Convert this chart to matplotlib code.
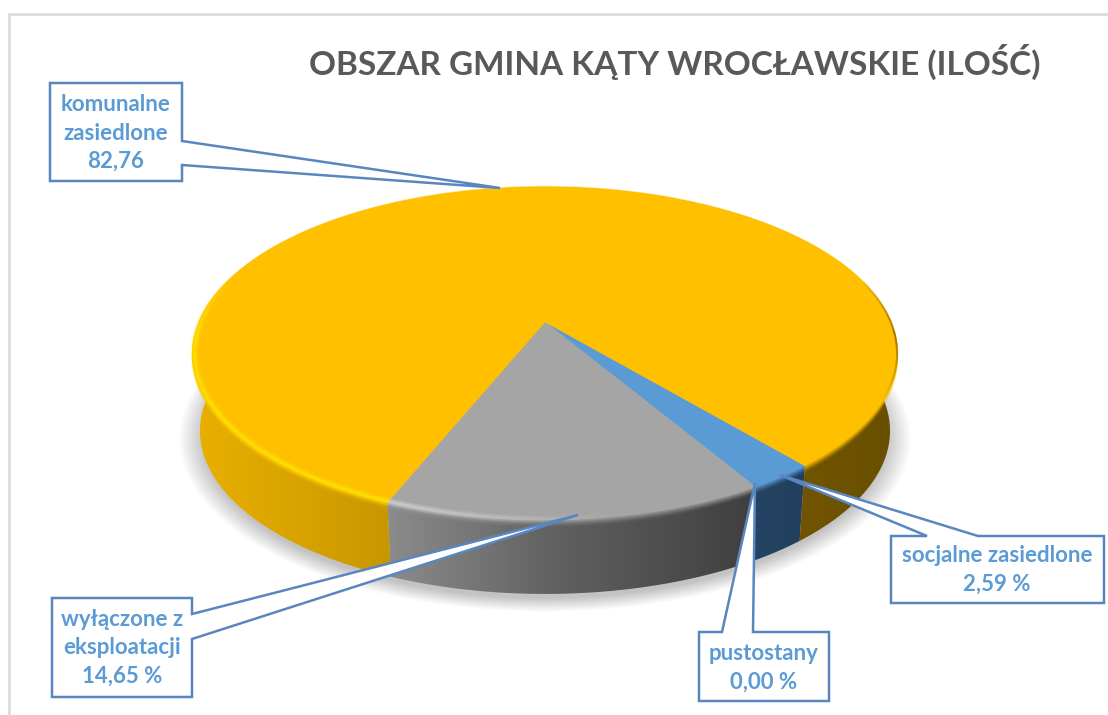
import numpy as np
import matplotlib
matplotlib.use('Agg')
import matplotlib.pyplot as plt
from matplotlib.patches import Polygon
from matplotlib.collections import LineCollection
from matplotlib.colors import LinearSegmentedColormap, to_rgb

# --- data ---
categories = ['socjalne zasiedlone', 'pustostany', 'wyłączone z eksploatacji', 'komunalne zasiedlone']
values = [2.59, 0.00, 14.65, 82.76]
top_colors = ['#5b9bd5', '#4a7ba8', '#a5a5a5', '#ffc000']
title = 'OBSZAR GMINA KĄTY WROCŁAWSKIE (ILOŚĆ)'
label_texts = [
    'socjalne zasiedlone\n2,59 %',
    'pustostany\n0,00 %',
    'wyłączone z\neksploatacji\n14,65 %',
    'komunalne\nzasiedlone\n82,76',
]

# --- pie geometry in pixels (perspective disc) ---
cx, cy = 545, 322
A, B, k = 345.7, 160.5, 0.189
depth = 78
bottom_scale = 0.98
start_angle = 40.0  # degrees right of the front, where first slice begins


def rim(phi_deg, scale=1.0, dy=0.0):
    phi = np.radians(phi_deg)
    X = np.sin(phi)
    Y = -np.cos(phi)
    w = 1 + k * Y
    return cx + scale * A * X / w, cy + dy - scale * B * Y / w


def glow(phi, alphas, color, lw, scale=0.995):
    # rim stroke whose opacity changes along the arc
    x, y = rim(phi, scale=scale)
    pts = np.c_[x, y]
    segs = np.stack([pts[:-1], pts[1:]], axis=1)
    rgba = [(*to_rgb(color), a) for a in alphas[:-1]]
    ax.add_collection(LineCollection(segs, colors=rgba, linewidths=lw, zorder=4.5, capstyle='butt'))


plt.rcParams['font.family'] = ['Lato', 'DejaVu Sans']
fig = plt.figure(figsize=(11.08, 7.15), dpi=100)
ax = fig.add_axes([0, 0, 1, 1])
ax.set_xlim(0, 1108)
ax.set_ylim(715, 0)
ax.axis('off')

# frame of the pasted screenshot
ax.plot([9, 9, 1108], [715, 14, 14], color='#dcdcdc', lw=2, zorder=1)

# soft shadow
full = np.linspace(0, 360, 361)
for i in range(30):
    sx, sy = rim(full, scale=bottom_scale - 0.012 + 0.0024 * (30 - i), dy=depth + 6)
    ax.add_patch(Polygon(np.c_[sx, sy], fc='black', ec='none', alpha=0.006, zorder=2))

# slice boundaries from the values
cum = np.cumsum([0] + values)
angles = start_angle - cum / sum(values) * 360

side_stops = [
    [(700, '#27466a'), (810, '#223f5c')],
    [(700, '#27466a'), (810, '#223f5c')],
    [(385, '#8c8c8c'), (560, '#606060'), (760, '#3e3e3e')],
    [(190, '#eab000'), (300, '#d8a300'), (392, '#c79700'), (800, '#715400'), (900, '#675000')],
]

# sides
for i in range(len(values)):
    if values[i] == 0:
        continue
    phi = np.linspace(angles[i], angles[i + 1], 400)
    tx, ty = rim(phi)
    bx, by = rim(phi, scale=bottom_scale, dy=depth)
    poly = Polygon(np.r_[np.c_[tx, ty], np.c_[bx, by][::-1]], fc='none', ec='none', zorder=3)
    ax.add_patch(poly)
    stops = side_stops[i]
    x0, x1 = stops[0][0], stops[-1][0]
    cmap = LinearSegmentedColormap.from_list(
        's', [((p - x0) / (x1 - x0), c) for p, c in stops])
    im = ax.imshow(np.linspace(0, 1, 256)[None, :], cmap=cmap, aspect='auto',
                   extent=[x0, x1, 715, 0], zorder=3)
    im.set_clip_path(poly)

    # bevel, the top colour fading down the side
    for j in range(8):
        ax.plot(tx, ty + j, color=top_colors[i], lw=1.6, alpha=0.6 * (1 - j / 8) ** 2,
                zorder=3.5, solid_capstyle='butt')

ax.set_xlim(0, 1108)
ax.set_ylim(715, 0)

# top face
for i in range(len(values)):
    if values[i] == 0:
        continue
    phi = np.linspace(angles[i], angles[i + 1], 400)
    tx, ty = rim(phi)
    ax.add_patch(Polygon(np.r_[[[cx, cy]], np.c_[tx, ty]], fc=top_colors[i], ec=top_colors[i],
                         lw=0.3, zorder=4))

# bright edge on the gold slice, left and front
phi = np.linspace(angles[3], -108, 200)
fade = np.clip((phi + 108) / 25, 0, 1)
for w, a in zip([6, 3.5, 1.8], [0.22, 0.35, 0.6]):
    glow(phi, a * fade, '#ffe600', w)
# light edge on the gray slice, only towards the gold side
phi = np.linspace(angles[3], angles[3] + 32, 120)
fade = np.clip(1 - (phi - angles[3]) / 32, 0, 1)
for w, a in zip([5, 2.5], [0.3, 0.5]):
    glow(phi, a * fade, '#dcdcdc', w)
# dark edge on the far right
phi = np.linspace(60, 105, 120)
fade = np.clip(1 - np.abs(phi - 85) / 22, 0, 1)
glow(phi, 0.7 * fade, '#6b5000', 1.4, scale=1.0)

# title
ax.text(675, 62, title, color='#595959', fontsize=24, fontweight='bold',
        ha='center', va='center', zorder=6)

# callouts: box corners plus tail, pixel layout
edge = '#5a86bf'
callouts = [
    ([(891, 536), (927, 536), (780, 475), (978, 536), (1104, 536), (1104, 603), (891, 603)], (997, 570)),
    ([(699, 632), (722, 632), (755, 483), (753, 632), (829, 632), (829, 701), (699, 701)], (764, 668)),
    ([(52, 598), (192, 598), (192, 614), (578, 515), (192, 639), (192, 697), (52, 697)], (122, 648)),
    ([(50, 83), (182, 83), (182, 141), (500, 188), (182, 165), (182, 181), (50, 181)], (116, 133)),
]
for (pts, pos), txt in zip(callouts, label_texts):
    ax.add_patch(Polygon(pts, closed=True, fc='white', ec=edge, lw=1.8, joinstyle='miter', zorder=7))
    ax.text(pos[0], pos[1], txt, color='#5b9bd5', fontsize=16, fontweight='bold',
            ha='center', va='center', linespacing=1.45, zorder=8)

fig.savefig('out.png', dpi=100)
